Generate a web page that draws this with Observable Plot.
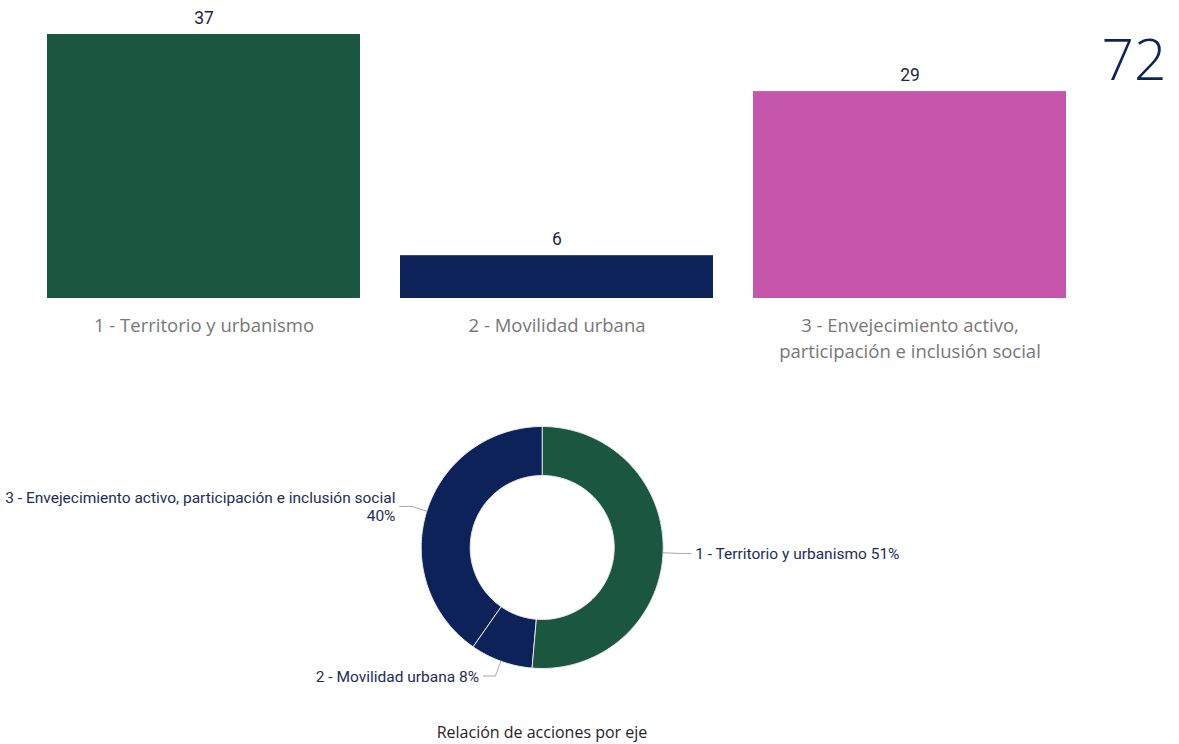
<!DOCTYPE html>
<html><head><meta charset="utf-8">
<script src="https://cdn.jsdelivr.net/npm/d3@7"></script>
<script src="https://cdn.jsdelivr.net/npm/@observablehq/plot@0.6"></script>
<style>
body{margin:0;background:#fff;width:1179px;height:744px;overflow:hidden;font-family:"Open Sans",sans-serif}
svg{display:block}
#caption{width:1084px;text-align:center;font-size:16px;color:#252525;height:30px;line-height:30px;padding-top:2px}
</style></head><body>
<div id="bars"></div><div id="donut"></div><div id="caption"></div>
<script>
// ---- data ----
const categories = [
  "1 - Territorio y urbanismo",
  "2 - Movilidad urbana",
  "3 - Envejecimiento activo, participación e inclusión social"
];
const values = [37, 6, 29];
const barColors = ["#1b5740", "#0c2258", "#c556ab"];
const donutColors = ["#1b5740", "#0c2258", "#0c2258"];
const captionText = "Relación de acciones por eje";

const rows = categories.map((c, i) => ({cat: c, value: values[i]}));
const total = d3.sum(values);

// ---- bar chart ----
const W = 1179;
const bars = Plot.plot({
  width: W, height: 370,
  marginLeft: 47, marginRight: 113, marginTop: 34, marginBottom: 72,
  x: {domain: categories, paddingInner: 40 / 353, paddingOuter: 0, label: null},
  y: {domain: [0, d3.max(values)], axis: null},
  color: {domain: categories, range: barColors},
  marks: [
    Plot.barY(rows, {x: "cat", y: "value", fill: "cat"}),
    Plot.text(rows, {x: "cat", y: "value", text: d => String(d.value), dy: -16,
      fontSize: 17.5, fill: "#1c2744", fontFamily: "Roboto"}),
    Plot.axisX({tickSize: 0, tickPadding: 15, fontSize: 18.5, color: "#777777",
      lineHeight: 1.4, fontFamily: "Open Sans", label: null,
      tickFormat: d => d.replace(", ", ",\n")}),
    Plot.text([total], {frameAnchor: "top-right", text: d => String(d), dx: 100, dy: 5,
      lineAnchor: "top", textAnchor: "end", fontSize: 57, fontWeight: 300,
      fontFamily: "Open Sans", fill: "#0c2258"})
  ]
});
document.getElementById("bars").appendChild(bars);

// ---- donut ----
const H = 345, R = 121, cx = 541.7, cy = 177, inner = 72 / 121;
const arcs = d3.pie().sort(null).value(d => d.value)(rows);
const slicePts = [];
arcs.forEach(a => {
  const n = Math.max(4, Math.ceil((a.endAngle - a.startAngle) / (2 * Math.PI) * 240));
  for (let k = 0; k <= n; k++) {
    const t = a.startAngle + (a.endAngle - a.startAngle) * k / n;
    slicePts.push({cat: a.data.cat, x: Math.sin(t), y: Math.cos(t)});
  }
  for (let k = n; k >= 0; k--) {
    const t = a.startAngle + (a.endAngle - a.startAngle) * k / n;
    slicePts.push({cat: a.data.cat, x: inner * Math.sin(t), y: inner * Math.cos(t)});
  }
});
const leaderPts = [], labels = [];
arcs.forEach(a => {
  const m = (a.startAngle + a.endAngle) / 2;
  const ox = Math.sin(m), oy = Math.cos(m);
  const ex = 1.13 * ox, ey = 1.13 * oy;
  const side = ox >= 0 ? 1 : -1;
  const hx = ex + side * 0.1;
  leaderPts.push({cat: a.data.cat, x: ox, y: oy}, {cat: a.data.cat, x: ex, y: ey}, {cat: a.data.cat, x: hx, y: ey});
  const pct = Math.round(a.data.value / total * 100) + "%";
  const txt = a.data.cat.length > 40 ? a.data.cat + "\n" + pct : a.data.cat + " " + pct;
  labels.push({side, x: hx + side * 0.035, y: ey, text: txt});
});
const labelStyle = {x: "x", y: "y", text: "text", fontSize: 15.5, fill: "#1e2c59",
  fontFamily: "Roboto", lineHeight: 1.17};
const donut = Plot.plot({
  width: W, height: H, margin: 0,
  x: {domain: [-cx / R, (W - cx) / R], range: [0, W], axis: null},
  y: {domain: [cy / R, (cy - H) / R], range: [0, H], axis: null},
  color: {domain: categories, range: donutColors},
  marks: [
    Plot.line(slicePts, {x: "x", y: "y", z: "cat", fill: "cat", stroke: "#e8e8ee", strokeWidth: 1, curve: "linear-closed"}),
    Plot.line(leaderPts, {x: "x", y: "y", z: "cat", stroke: "#a8a8a8", strokeWidth: 1}),
    Plot.text(labels.filter(d => d.side > 0), {...labelStyle, textAnchor: "start"}),
    Plot.text(labels.filter(d => d.side < 0), {...labelStyle, textAnchor: "end"})
  ]
});
document.getElementById("donut").appendChild(donut);
document.getElementById("caption").textContent = captionText;
</script>
</body></html>
